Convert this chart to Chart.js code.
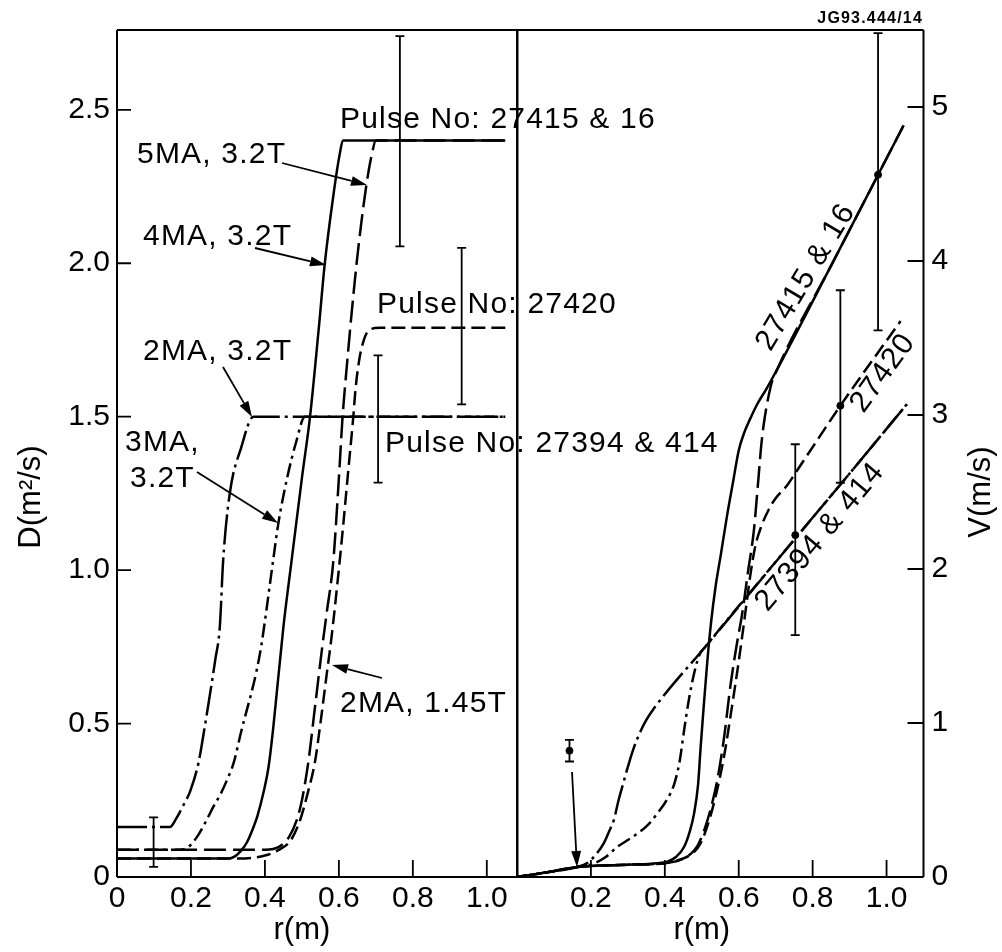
<!DOCTYPE html>
<html>
<head>
<meta charset="utf-8">
<script src="https://cdn.jsdelivr.net/npm/chart.js@4.4.1/dist/chart.umd.min.js"></script>
<style>
  html, body { margin: 0; background: #fff; }
  #wrap { position: relative; width: 1002px; height: 952px; }
  canvas { position: absolute; left: 0; top: 0; }
</style>
</head>
<body>
<div id="wrap">
  <canvas id="leftChart" width="1002" height="952"></canvas>
  <canvas id="rightChart" width="1002" height="952"></canvas>
</div>
<script>
const FONT = "'Liberation Sans', Arial, Helvetica, sans-serif";

// ---- left panel: D (m^2/s) vs r (m) ----
const leftTicksR = [0, 0.2, 0.4, 0.6, 0.8, 1.0];
const leftLabelsR = ['0', '0.2', '0.4', '0.6', '0.8', '1.0'];
const leftTicksD = [0, 0.5, 1.0, 1.5, 2.0, 2.5];
const leftLabelsD = ['0', '0.5', '1.0', '1.5', '2.0', '2.5'];

// 2MA, 3.2T
const dA_r = [0, 0.143, 0.16, 0.18, 0.198, 0.22, 0.236, 0.252, 0.266, 0.278, 0.287, 0.305, 0.336, 0.369, 1.05];
const dA_D = [0.163, 0.163, 0.19, 0.235, 0.28, 0.37, 0.48, 0.6, 0.71, 0.815, 1.03, 1.25, 1.4, 1.5, 1.5];
// 3MA, 3.2T
const dB_r = [0, 0.17, 0.19, 0.216, 0.24, 0.261, 0.28, 0.297, 0.315, 0.335, 0.378, 0.391, 0.422, 0.436, 0.46, 0.485, 0.508, 1.05];
const dB_D = [0.089, 0.089, 0.095, 0.13, 0.18, 0.23, 0.27, 0.315, 0.37, 0.47, 0.675, 0.76, 1.03, 1.15, 1.3, 1.42, 1.5, 1.5];
// 4MA, 3.2T
const dC_r = [0, 0.30, 0.32, 0.335, 0.35, 0.365, 0.38, 0.397, 0.41, 0.422, 0.432, 0.45, 0.472, 0.5, 0.522, 0.545, 0.562, 0.585, 0.60, 0.612, 1.05];
const dC_D = [0.06, 0.06, 0.068, 0.085, 0.11, 0.15, 0.2, 0.28, 0.36, 0.48, 0.6, 0.815, 1.03, 1.3, 1.5, 1.78, 2.0, 2.22, 2.34, 2.4, 2.4];
// 5MA, 3.2T
const dD_r = [0, 0.40, 0.44, 0.465, 0.486, 0.50, 0.518, 0.535, 0.555, 0.567, 0.585, 0.60, 0.61, 0.616, 0.648, 0.675, 0.69, 0.70, 1.05];
const dD_D = [0.089, 0.089, 0.10, 0.13, 0.185, 0.25, 0.38, 0.55, 0.75, 0.86, 1.03, 1.3, 1.5, 1.59, 2.0, 2.26, 2.36, 2.4, 2.4];
// 2MA, 1.45T
const dE_r = [0, 0.33, 0.40, 0.44, 0.47, 0.495, 0.515, 0.536, 0.55, 0.567, 0.58, 0.598, 0.612, 0.625, 0.639, 0.645, 0.655, 0.665, 0.68, 0.71, 1.05];
const dE_D = [0.06, 0.06, 0.07, 0.09, 0.12, 0.185, 0.27, 0.38, 0.5, 0.66, 0.78, 0.98, 1.15, 1.32, 1.5, 1.59, 1.685, 1.74, 1.78, 1.79, 1.79];

const leftErrR = [0.099, 0.706, 0.765, 0.932];
const leftErrLo = [0.033, 1.285, 2.055, 1.54];
const leftErrHi = [0.194, 1.70, 2.74, 2.05];

// ---- right panel: V (m/s) vs r (m) ----
const rightTicksR = [0.2, 0.4, 0.6, 0.8, 1.0];
const rightLabelsR = ['0.2', '0.4', '0.6', '0.8', '1.0'];
const rightTicksV = [0, 1, 2, 3, 4, 5];
const rightLabelsV = ['0', '1', '2', '3', '4', '5'];

const vA_r = [0, 0.08, 0.163, 0.19, 0.215, 0.235, 0.25, 0.262, 0.275, 0.29, 0.303, 0.317, 0.335, 0.35, 0.369, 0.515, 0.75, 0.9, 1.055];
const vA_V = [0, 0.03, 0.065, 0.09, 0.15, 0.22, 0.3, 0.37, 0.5, 0.63, 0.74, 0.845, 0.95, 1.02, 1.09, 1.51, 2.19, 2.62, 3.07];
const vB_r = [0, 0.08, 0.163, 0.2, 0.24, 0.271, 0.3, 0.325, 0.355, 0.379, 0.405, 0.425, 0.44, 0.452, 0.465, 0.48, 0.495, 0.508, 0.75, 0.9, 1.055];
const vB_V = [0, 0.03, 0.065, 0.08, 0.13, 0.195, 0.24, 0.28, 0.34, 0.41, 0.5, 0.6, 0.75, 0.95, 1.15, 1.33, 1.45, 1.49, 2.19, 2.62, 3.07];
const vC_r = [0, 0.08, 0.163, 0.3, 0.38, 0.407, 0.43, 0.452, 0.468, 0.479, 0.49, 0.497, 0.505, 0.515, 0.525, 0.537, 0.552, 0.568, 0.585, 0.60, 0.614, 0.63, 0.65, 0.675, 0.707, 0.85, 1.046];
const vC_V = [0, 0.03, 0.065, 0.08, 0.09, 0.1, 0.13, 0.195, 0.3, 0.41, 0.6, 0.845, 1.1, 1.4, 1.65, 1.88, 2.1, 2.34, 2.57, 2.77, 2.88, 2.97, 3.07, 3.17, 3.31, 3.97, 4.88];
const vD_r = [0, 0.08, 0.163, 0.3, 0.4, 0.44, 0.47, 0.488, 0.506, 0.525, 0.542, 0.56, 0.578, 0.594, 0.61, 0.625, 0.641, 0.652, 0.663, 0.686, 0.705, 0.85, 1.046];
const vD_V = [0, 0.03, 0.065, 0.08, 0.09, 0.11, 0.15, 0.2, 0.3, 0.45, 0.63, 0.9, 1.25, 1.5, 1.72, 1.98, 2.25, 2.55, 2.85, 3.18, 3.3, 3.97, 4.88];
const vE_r = [0, 0.08, 0.163, 0.3, 0.4, 0.45, 0.478, 0.497, 0.515, 0.535, 0.56, 0.58, 0.6, 0.617, 0.632, 0.645, 0.66, 0.68, 0.70, 0.73, 0.758, 0.875, 1.038];
const vE_V = [0, 0.03, 0.065, 0.08, 0.09, 0.12, 0.16, 0.22, 0.33, 0.5, 0.78, 1.08, 1.4, 1.7, 1.97, 2.15, 2.27, 2.38, 2.46, 2.54, 2.64, 3.06, 3.61];

const rightErrR = [0.142, 0.753, 0.875, 0.977];
const rightErrLo = [0.75, 1.57, 2.56, 3.55];
const rightErrHi = [0.89, 2.81, 3.81, 5.48];
const rightErrMid = [0.82, 2.22, 3.06, 4.56];

// line styles per discharge
const DASH_A = [30, 5, 3, 5];
const DASH_B = [14, 5, 3, 5];
const DASH_C = [];
const DASH_D = [22, 7];
const DASH_E = [14, 6];

function pts(xs, ys) { return xs.map((x, i) => ({ x: x, y: ys[i] })); }

function curve(xs, ys, dash) {
  return {
    data: pts(xs, ys), showLine: true, borderColor: '#000', borderWidth: 2.5,
    borderDash: dash, pointRadius: 0, cubicInterpolationMode: 'monotone', fill: false
  };
}

function errBars(xs, lo, hi) {
  return xs.map((x, i) => ({
    data: [{ x: x, y: lo[i] }, { x: x, y: hi[i] }], showLine: true,
    borderColor: '#000', borderWidth: 1.8, pointStyle: 'line',
    pointRadius: 4.5, pointBorderWidth: 1.8, pointBorderColor: '#000'
  }));
}

function scale(pos, min, max, ticks, labels, size, pad) {
  return {
    type: 'linear', position: pos, min: min, max: max,
    afterBuildTicks: s => { s.ticks = ticks.map(v => ({ value: v })); },
    afterFit: s => { if (s.isHorizontal()) s.height = size; else s.width = size; },
    grid: { display: false, drawTicks: false },
    border: { display: false },
    ticks: {
      callback: (v, i) => labels[i], color: '#000', padding: pad,
      font: { family: FONT, size: 30 }, maxRotation: 0, autoSkip: false
    }
  };
}

// frame, inward tick marks, annotations
const decor = {
  id: 'decor',
  afterDraw(chart, args, o) {
    const ctx = chart.ctx, a = chart.chartArea;
    const xs = chart.scales.x, ys = chart.scales.y;
    ctx.save();
    ctx.strokeStyle = '#000';
    ctx.fillStyle = '#000';
    ctx.lineWidth = 2;
    ctx.beginPath();
    ctx.moveTo(a.left, a.top); ctx.lineTo(a.right, a.top);
    ctx.moveTo(a.left, a.bottom); ctx.lineTo(a.right, a.bottom);
    ctx.moveTo(a.left, a.top); ctx.lineTo(a.left, a.bottom);
    ctx.moveTo(a.right, a.top); ctx.lineTo(a.right, a.bottom);
    ctx.stroke();

    ctx.lineWidth = 1.8;
    ctx.beginPath();
    xs.ticks.forEach(t => {
      if (t.value === 0) return;
      const px = xs.getPixelForValue(t.value);
      ctx.moveTo(px, a.bottom); ctx.lineTo(px, a.bottom - o.xTick);
    });
    ys.ticks.forEach(t => {
      if (t.value === 0) return;
      const py = ys.getPixelForValue(t.value);
      if (o.yRight) { ctx.moveTo(a.right, py); ctx.lineTo(a.right - o.yTick, py); }
      else { ctx.moveTo(a.left, py); ctx.lineTo(a.left + o.yTick, py); }
    });
    ctx.stroke();

    // axis titles
    ctx.font = '31px ' + FONT;
    ctx.textAlign = 'center';
    ctx.textBaseline = 'middle';
    ctx.fillText(o.xTitle, xs.getPixelForValue(0.5), 930);
    ctx.save();
    ctx.translate(o.yTitlePos[0], o.yTitlePos[1]);
    ctx.rotate(-Math.PI / 2);
    ctx.fillText(o.yTitle, 0, 0);
    ctx.restore();

    // labels
    ctx.letterSpacing = '1.2px';
    o.texts.forEach(t => {
      ctx.save();
      ctx.font = (t.font || '30px') + ' ' + FONT;
      ctx.translate(t.x, t.y);
      if (t.rot) ctx.rotate(t.rot * Math.PI / 180);
      ctx.textAlign = t.align || 'left';
      ctx.textBaseline = t.base || 'alphabetic';
      ctx.fillText(t.s, 0, 0);
      ctx.restore();
    });

    // arrows
    ctx.lineWidth = 1.8;
    o.arrows.forEach(ar => {
      const [x0, y0, x1, y1] = ar;
      const ang = Math.atan2(y1 - y0, x1 - x0);
      const L = 16, W = 5;
      const bx = x1 - L * Math.cos(ang), by = y1 - L * Math.sin(ang);
      ctx.beginPath();
      ctx.moveTo(x0, y0); ctx.lineTo(bx, by);
      ctx.stroke();
      ctx.beginPath();
      ctx.moveTo(x1, y1);
      ctx.lineTo(bx + W * Math.sin(ang), by - W * Math.cos(ang));
      ctx.lineTo(bx - W * Math.sin(ang), by + W * Math.cos(ang));
      ctx.closePath();
      ctx.fill();
    });
    ctx.restore();
  }
};

const common = {
  responsive: false,
  animation: false,
  events: [],
};

const leftChart = new Chart(document.getElementById('leftChart'), {
  type: 'scatter',
  data: {
    datasets: [
      curve(dA_r, dA_D, DASH_A),
      curve(dB_r, dB_D, DASH_B),
      curve(dC_r, dC_D, DASH_C),
      curve(dD_r, dD_D, DASH_D),
      curve(dE_r, dE_D, DASH_E),
      ...errBars(leftErrR, leftErrLo, leftErrHi)
    ]
  },
  options: Object.assign({}, common, {
    layout: { padding: { left: 0, right: 1002 - 517.5, top: 30, bottom: 0 } },
    scales: {
      x: scale('bottom', 0, 1.083, leftTicksR, leftLabelsR, 75, 4),
      y: scale('left', 0, 2.76, leftTicksD, leftLabelsD, 117, 7)
    },
    plugins: {
      legend: { display: false },
      tooltip: { enabled: false },
      decor: {
        xTick: 17, yTick: 14, yRight: false,
        xTitle: 'r(m)', yTitle: 'D(m\u00B2/s)', yTitlePos: [31, 497],
        texts: [
          { s: 'Pulse No: 27415 & 16', x: 340, y: 128 },
          { s: 'Pulse No: 27420', x: 377, y: 313 },
          { s: 'Pulse No: 27394 & 414', x: 385, y: 452 },
          { s: '5MA, 3.2T', x: 137, y: 163 },
          { s: '4MA, 3.2T', x: 143, y: 245 },
          { s: '2MA, 3.2T', x: 143, y: 360 },
          { s: '3MA,', x: 125, y: 451 },
          { s: '3.2T', x: 130, y: 487 },
          { s: '2MA, 1.45T', x: 340, y: 712 }
        ],
        arrows: [
          [282, 163, 367, 185],
          [255, 248, 326, 265],
          [223, 367, 252, 417],
          [197, 472, 278, 523],
          [382, 678, 332, 665]
        ]
      }
    }
  }),
  plugins: [decor]
});

const rightChart = new Chart(document.getElementById('rightChart'), {
  type: 'scatter',
  data: {
    datasets: [
      curve(vA_r, vA_V, DASH_A),
      curve(vB_r, vB_V, DASH_B),
      curve(vC_r, vC_V, DASH_C),
      curve(vD_r, vD_V, DASH_D),
      curve(vE_r, vE_V, DASH_E),
      ...errBars(rightErrR, rightErrLo, rightErrHi),
      {
        data: pts(rightErrR, rightErrMid), showLine: false, pointStyle: 'circle',
        pointRadius: 3.5, backgroundColor: '#000', borderColor: '#000'
      }
    ]
  },
  options: Object.assign({}, common, {
    layout: { padding: { left: 517, right: 0, top: 30, bottom: 0 } },
    scales: {
      x: scale('bottom', 0, 1.1, rightTicksR, rightLabelsR, 75, 4),
      y: scale('right', 0, 5.5, rightTicksV, rightLabelsV, 1002 - 923.5, 8)
    },
    plugins: {
      legend: { display: false },
      tooltip: { enabled: false },
      decor: {
        xTick: 17, yTick: 16, yRight: true,
        xTitle: 'r(m)', yTitle: 'V(m/s)', yTitlePos: [981, 492],
        texts: [
          { s: 'JG93.444/14', x: 923, y: 23, align: 'right', font: 'bold 16px' },
          { s: '27415 & 16', x: 806, y: 277, rot: -59, align: 'center', base: 'middle' },
          { s: '27420', x: 883, y: 373, rot: -54, align: 'center', base: 'middle' },
          { s: '27394 & 414', x: 820, y: 537, rot: -50, align: 'center', base: 'middle' }
        ],
        arrows: [
          [572, 772, 577, 867]
        ]
      }
    }
  }),
  plugins: [decor]
});
</script>
</body>
</html>
